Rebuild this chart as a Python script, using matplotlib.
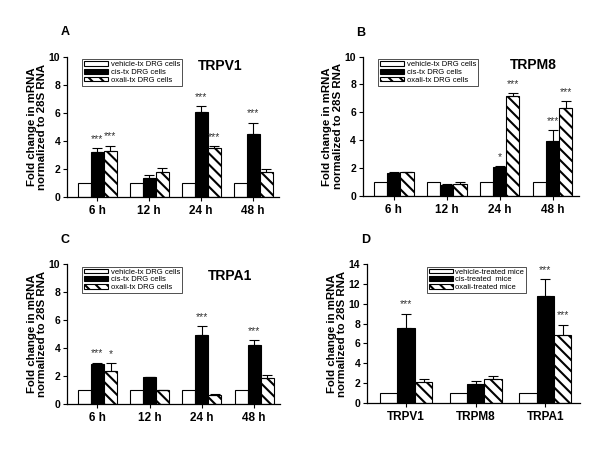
import matplotlib
matplotlib.use("Agg")
import matplotlib.pyplot as plt
import numpy as np

plt.rcParams['font.family'] = ['Liberation Sans', 'DejaVu Sans']
plt.rcParams['hatch.linewidth'] = 1.5

# ---- data ----
time_labels = ["6 h", "12 h", "24 h", "48 h"]
gene_labels = ["TRPV1", "TRPM8", "TRPA1"]
cell_legend = ["vehicle-tx DRG cells", "cis-tx DRG cells", "oxali-tx DRG cells"]
mice_legend = ["vehicle-treated mice", "cis-treated  mice", "oxali-treated mice"]

# Panel A: TRPV1
a_vehicle = [1.0, 1.0, 1.0, 1.0]
a_cis = [3.2, 1.35, 6.05, 4.5]
a_cis_err = [0.25, 0.2, 0.4, 0.8]
a_oxali = [3.25, 1.8, 3.45, 1.75]
a_oxali_err = [0.4, 0.25, 0.15, 0.25]
a_cis_sig = ["***", "", "***", "***"]
a_oxali_sig = ["***", "", "***", ""]

# Panel B: TRPM8
b_vehicle = [1.0, 1.0, 1.0, 1.0]
b_cis = [1.65, 0.8, 2.05, 3.95]
b_cis_err = [0.1, 0.05, 0.1, 0.75]
b_oxali = [1.7, 0.85, 7.15, 6.3]
b_oxali_err = [0.05, 0.15, 0.25, 0.5]
b_cis_sig = ["", "", "*", "***"]
b_oxali_sig = ["", "", "***", "***"]

# Panel C: TRPA1
c_vehicle = [1.0, 1.0, 1.0, 1.0]
c_cis = [2.85, 1.9, 4.9, 4.2]
c_cis_err = [0.1, 0.05, 0.65, 0.35]
c_oxali = [2.35, 1.0, 0.65, 1.85]
c_oxali_err = [0.55, 0.02, 0.05, 0.2]
c_cis_sig = ["***", "", "***", "***"]
c_oxali_sig = ["*", "", "", ""]

# Panel D: mice
d_vehicle = [1.0, 1.0, 1.0]
d_cis = [7.6, 1.95, 10.8]
d_cis_err = [1.4, 0.3, 1.7]
d_oxali = [2.15, 2.45, 6.8]
d_oxali_err = [0.3, 0.3, 1.1]
d_cis_sig = ["***", "", "***"]
d_oxali_sig = ["", "", "***"]

fig = plt.figure(figsize=(6.0, 4.72), dpi=100)

W = 0.25
HATCH = '\\\\\\'


def panel(rect, labels, veh, cis, cis_err, ox, ox_err, cis_sig, ox_sig,
          ymax, ystep, title, letter, leg_labels, xlim, leg_loc, title_xy):
    ax = fig.add_axes(rect)
    x = np.arange(len(labels))
    b1 = ax.bar(x - W, veh, W, color='white', edgecolor='black', lw=0.8)
    b2 = ax.bar(x, cis, W, color='black', edgecolor='black', lw=0.8)
    b3 = ax.bar(x + W, ox, W, color='white', edgecolor='black', lw=0.8, hatch=HATCH)
    ax.errorbar(x, cis, yerr=[np.zeros(len(x)), cis_err], fmt='none',
                ecolor='black', elinewidth=0.8, capsize=3.5, capthick=0.8)
    ax.errorbar(x + W, ox, yerr=[np.zeros(len(x)), ox_err], fmt='none',
                ecolor='black', elinewidth=0.8, capsize=3.5, capthick=0.8)
    off = ymax * 0.03
    for i in range(len(x)):
        if cis_sig[i]:
            ax.text(x[i], cis[i] + cis_err[i] + off, cis_sig[i], ha='center',
                    va='bottom', fontsize=7.5, color='#333333')
        if ox_sig[i]:
            ax.text(x[i] + W, ox[i] + ox_err[i] + off, ox_sig[i], ha='center',
                    va='bottom', fontsize=7.5, color='#333333')
    ax.set_xlim(*xlim)
    ax.set_ylim(0, ymax)
    ax.set_yticks(np.arange(0, ymax + 0.1, ystep))
    ax.set_xticks(x)
    ax.set_xticklabels(labels, fontweight='bold', fontsize=8.5)
    for lab in ax.get_yticklabels():
        lab.set_fontweight('bold')
        lab.set_fontsize(7.5)
    ax.tick_params(axis='both', direction='out', length=3, width=0.8, pad=2)
    ax.tick_params(axis='x', pad=3)
    for s in ['top', 'right']:
        ax.spines[s].set_visible(False)
    for s in ['left', 'bottom']:
        ax.spines[s].set_linewidth(0.9)
    ax.set_ylabel("Fold change in mRNA\nnormalized to 28S RNA", fontweight='bold',
                  fontsize=8.2, labelpad=1, linespacing=1.1)
    if title:
        ax.text(title_xy[0], title_xy[1], title, transform=ax.transAxes,
                fontweight='bold', fontsize=10, ha='center', va='center')
    ax.text(-0.03, 1.13, letter, transform=ax.transAxes, fontweight='bold',
            fontsize=9, ha='left', va='bottom')
    leg = ax.legend([b1, b2, b3], leg_labels, loc='upper left',
                    bbox_to_anchor=leg_loc, fontsize=5.5, frameon=True,
                    fancybox=False, edgecolor='black', handlelength=3.2,
                    handleheight=0.5, handletextpad=0.3, labelspacing=0.1,
                    borderpad=0.25, borderaxespad=0)
    leg.get_frame().set_linewidth(0.6)
    return ax


panel([0.112, 0.583, 0.353, 0.297], time_labels, a_vehicle, a_cis, a_cis_err,
      a_oxali, a_oxali_err, a_cis_sig, a_oxali_sig, 10, 2, "TRPV1", "A",
      cell_legend, (-0.58, 3.5), (0.07, 0.98), (0.72, 0.93))
panel([0.605, 0.585, 0.36, 0.295], time_labels, b_vehicle, b_cis, b_cis_err,
      b_oxali, b_oxali_err, b_cis_sig, b_oxali_sig, 10, 2, "TRPM8", "B",
      cell_legend, (-0.58, 3.5), (0.07, 0.98), (0.79, 0.94))
panel([0.112, 0.144, 0.355, 0.297], time_labels, c_vehicle, c_cis, c_cis_err,
      c_oxali, c_oxali_err, c_cis_sig, c_oxali_sig, 10, 2, "TRPA1", "C",
      cell_legend, (-0.58, 3.5), (0.07, 0.98), (0.765, 0.91))
panel([0.612, 0.146, 0.355, 0.295], gene_labels, d_vehicle, d_cis, d_cis_err,
      d_oxali, d_oxali_err, d_cis_sig, d_oxali_sig, 14, 2, "", "D",
      mice_legend, (-0.56, 2.5), (0.28, 0.98), (0.7, 0.92))

fig.savefig("out.png", dpi=100)
